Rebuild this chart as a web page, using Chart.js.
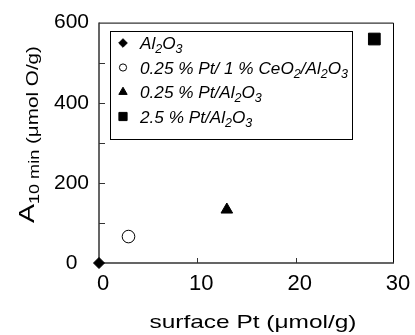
<!DOCTYPE html>
<html>
<head>
<meta charset="utf-8">
<script src="https://cdn.jsdelivr.net/npm/chart.js@4.4.1/dist/chart.umd.min.js"></script>
<style>
  html, body { margin: 0; padding: 0; background: #fff; }
</style>
</head>
<body>
<canvas id="myChart" width="415" height="335"></canvas>
<script>
// data
const samples = ['Al2O3', '0.25 % Pt/ 1 % CeO2/Al2O3', '0.25 % Pt/Al2O3', '2.5 % Pt/Al2O3'];
const surfacePt = [0, 3.0, 13.0, 28.0];
const a10min = [0, 66, 133, 559];
const xTickLabels = [0, 10, 20, 30];
const yTickLabels = [0, 200, 400, 600];

// marker styles
const markers = ['rectRot', 'circle', 'triangle', 'rect'];
const fills = ['#000', '#fff', '#000', '#000'];
const plotRadius = [5.5, 6.3, 6.7, 8.3];
const legendRadius = [4.3, 3.6, 4.8, 5.8];

const FONT = "'Liberation Sans', Arial, sans-serif";

// split a label like CeO2 into normal / subscript pieces
function splitSub(str) {
  const out = [];
  let cur = '', sub = false;
  for (let i = 0; i < str.length; i++) {
    const c = str[i];
    const s = /\d/.test(c) && /[A-Za-z]/.test(str[i - 1] || '');
    if (s !== sub && cur) { out.push({ t: cur, sub: sub }); cur = ''; }
    sub = s;
    cur += c;
  }
  if (cur) out.push({ t: cur, sub: sub });
  return out;
}

function measureSegs(ctx, segs) {
  let w = 0;
  segs.forEach(s => { ctx.font = s.font; s.w = ctx.measureText(s.t).width; w += s.w; });
  return w;
}

function drawSegs(ctx, segs, sx) {
  let x = 0;
  segs.forEach(s => {
    ctx.font = s.font;
    ctx.save();
    ctx.translate(x, 0);
    ctx.scale(sx, 1);
    ctx.fillText(s.t, 0, s.dy || 0);
    ctx.restore();
    x += s.w * sx;
  });
}

const decor = {
  id: 'decor',
  beforeDatasetsDraw(chart) {
    const { ctx, chartArea: a, scales: { x, y } } = chart;
    ctx.save();
    // top and right frame
    ctx.strokeStyle = '#000';
    ctx.lineWidth = 1;
    ctx.beginPath();
    ctx.moveTo(a.left, a.top + 0.5);
    ctx.lineTo(a.right - 0.5, a.top + 0.5);
    ctx.lineTo(a.right - 0.5, a.bottom);
    ctx.stroke();
    // axes
    ctx.strokeStyle = '#333';
    ctx.lineWidth = 1.5;
    ctx.beginPath();
    ctx.moveTo(a.left, a.top);
    ctx.lineTo(a.left, a.bottom);
    ctx.lineTo(a.right, a.bottom);
    ctx.stroke();
    // inward ticks
    ctx.lineWidth = 1;
    ctx.beginPath();
    y.ticks.forEach(t => {
      if (t.value <= y.min || t.value >= y.max) return;
      const py = Math.round(y.getPixelForValue(t.value)) + 0.5;
      ctx.moveTo(a.left, py);
      ctx.lineTo(a.left + 6, py);
    });
    x.ticks.forEach(t => {
      if (t.value <= x.min || t.value >= x.max) return;
      const px = Math.round(x.getPixelForValue(t.value)) + 0.5;
      ctx.moveTo(px, a.bottom);
      ctx.lineTo(px, a.bottom - 5);
    });
    ctx.stroke();
    ctx.restore();
  },
  afterDraw(chart) {
    const { ctx } = chart;
    ctx.save();
    ctx.textBaseline = 'alphabetic';

    // legend box
    ctx.fillStyle = '#fff';
    ctx.fillRect(110.5, 31.5, 242, 108);
    ctx.strokeStyle = '#000';
    ctx.lineWidth = 1;
    ctx.strokeRect(110.5, 31.5, 242, 108);

    const rows = samples.map(s => splitSub(s).map(p => ({
      t: p.t,
      font: 'italic ' + (p.sub ? 12 : 16.5) + 'px ' + FONT,
      dy: p.sub ? 4 : 0
    })));
    const widths = rows.map(r => measureSegs(ctx, r));
    const sx = 208 / Math.max(...widths);
    rows.forEach((segs, i) => {
      const cy = 43 + i * 24.5;
      ctx.fillStyle = fills[i];
      ctx.strokeStyle = '#000';
      ctx.lineWidth = 1;
      Chart.helpers.drawPoint(ctx, { pointStyle: markers[i], radius: legendRadius[i], rotation: 0, borderWidth: 1 }, 123, cy);
      ctx.fillStyle = '#000';
      ctx.save();
      ctx.translate(140, cy + 6);
      drawSegs(ctx, segs, sx);
      ctx.restore();
    });

    // x title
    const xt = [{ t: 'surface Pt (\u03bcmol/g)', font: '19px ' + FONT }];
    const xw = measureSegs(ctx, xt);
    ctx.save();
    ctx.translate(253 - 207 / 2, 328);
    drawSegs(ctx, xt, 207 / xw);
    ctx.restore();

    // y title
    const yt = [
      { t: 'A', font: '22px ' + FONT, dy: 0 },
      { t: '10 min', font: '14px ' + FONT, dy: 5.5 },
      { t: ' (\u03bcmol O/g)', font: '16px ' + FONT, dy: 4.5 }
    ];
    const yw = measureSegs(ctx, yt);
    ctx.save();
    ctx.translate(33.5, 134.5);
    ctx.rotate(-Math.PI / 2);
    ctx.translate(-177 / 2, 0);
    drawSegs(ctx, yt, 177 / yw);
    ctx.restore();

    ctx.restore();
  }
};

const ctx1 = document.getElementById('myChart');

new Chart(ctx1, {
  type: 'scatter',
  data: {
    datasets: samples.map((name, i) => ({
      label: name,
      data: [{ x: surfacePt[i], y: a10min[i] }],
      pointStyle: markers[i],
      pointRadius: plotRadius[i],
      pointHoverRadius: plotRadius[i],
      backgroundColor: fills[i],
      borderColor: '#000',
      borderWidth: 1,
      clip: false
    }))
  },
  options: {
    responsive: false,
    animation: false,
    events: [],
    layout: { padding: { top: 22, right: 21, left: 0, bottom: 0 } },
    plugins: {
      legend: { display: false },
      tooltip: { enabled: false }
    },
    scales: {
      x: {
        type: 'linear',
        min: 0,
        max: 30,
        grid: { display: false, drawTicks: false },
        border: { display: false },
        ticks: {
          stepSize: 10,
          padding: 8,
          labelOffset: 4,
          maxRotation: 0,
          color: '#000',
          font: { family: FONT, size: 22 },
          callback: v => xTickLabels.includes(v) ? v : ''
        },
        afterFit: s => { s.height = 72; }
      },
      y: {
        min: 0,
        max: 600,
        grid: { display: false, drawTicks: false },
        border: { display: false },
        ticks: {
          stepSize: 100,
          padding: 10,
          crossAlign: 'center',
          color: '#000',
          font: { family: FONT, size: 21 },
          callback: v => yTickLabels.includes(v) ? v : ''
        },
        afterFit: s => { s.width = 99; }
      }
    }
  },
  plugins: [decor]
});
</script>
</body>
</html>
